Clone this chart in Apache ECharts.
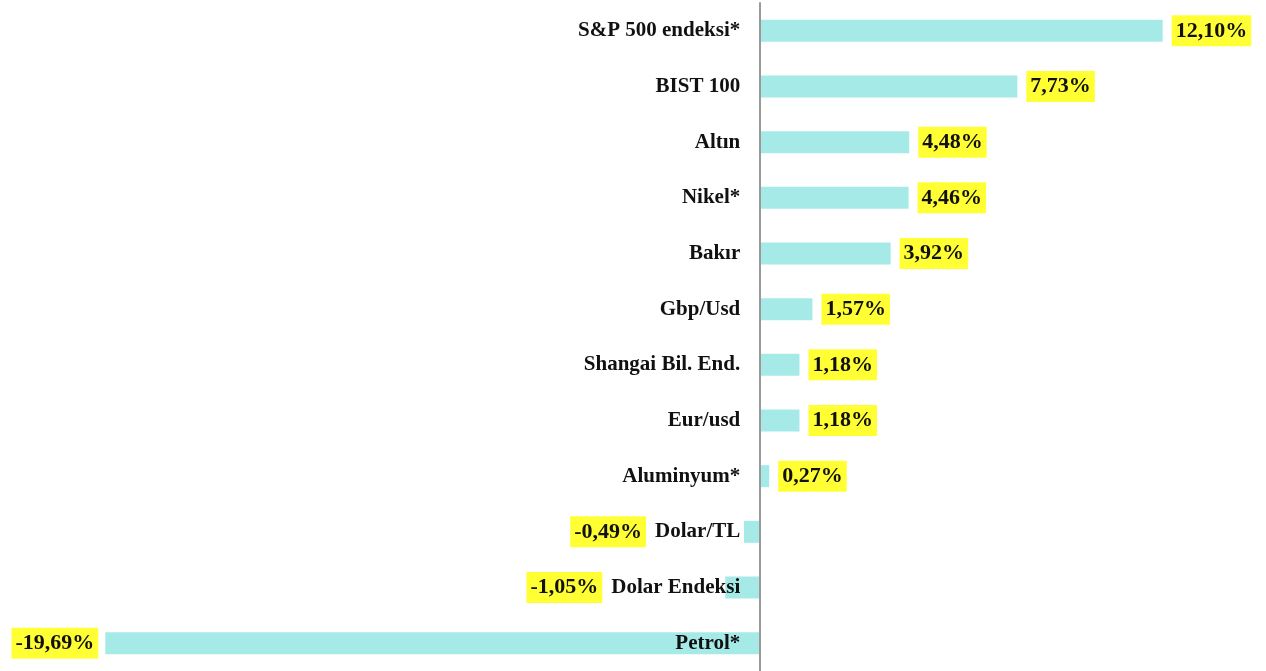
<!DOCTYPE html>
<html>
<head>
<meta charset="utf-8">
<script src="https://cdn.jsdelivr.net/npm/echarts@6/dist/echarts.min.js"></script>
<style>
html, body { margin: 0; padding: 0; background: #fff; }
#main { width: 1266px; height: 671px; }
</style>
</head>
<body>
<div id="main"></div>
<script>
var categories = ['S&P 500 endeksi*', 'BIST 100', 'Altın', 'Nikel*', 'Bakır', 'Gbp/Usd',
	'Shangai Bil. End.', 'Eur/usd', 'Aluminyum*', 'Dolar/TL', 'Dolar Endeksi', 'Petrol*'];
var values = [12.10, 7.73, 4.48, 4.46, 3.92, 1.57, 1.18, 1.18, 0.27, -0.49, -1.05, -19.69];

var fontFam = '"Liberation Serif", "Times New Roman", serif';
var catFontSize = 21;
var labelMargin = 20;
var xMin = -20, xMax = 12.5;
var gridLeft = 95, gridRight = 90;
var gridWidth = 1266 - gridLeft - gridRight;
var pxPerUnit = gridWidth / (xMax - xMin);
// move the category axis onto the zero line
var zeroOffset = -(0 - xMin) * pxPerUnit;

// text width, used so negative value labels sit left of the category name
var ctx = document.createElement('canvas').getContext('2d');
ctx.font = 'bold ' + catFontSize + 'px ' + fontFam;

var myChart = echarts.init(document.getElementById('main'));
var barData = values.map(function (v, i) {
	var dist = 9;
	if (v < 0) {
		var textW = ctx.measureText(categories[i]).width;
		dist = Math.max(7, labelMargin + textW + 9 - (-v) * pxPerUnit);
	}
	return {
		value: v,
		label: { position: v < 0 ? 'left' : 'right', distance: dist }
	};
});

var option = {
	animation: false,
	grid: { left: gridLeft, right: gridRight, top: 3, bottom: 0, containLabel: false, outerBoundsMode: 'none' },
	xAxis: {
		type: 'value',
		min: xMin,
		max: xMax,
		show: false
	},
	yAxis: {
		type: 'category',
		data: categories,
		inverse: true,
		position: 'left',
		offset: zeroOffset,
		z: 5,
		axisLine: { show: true, onZero: false, lineStyle: { color: '#999', width: 2 } },
		axisTick: { show: false },
		axisLabel: {
			margin: labelMargin,
			color: '#111',
			fontFamily: fontFam,
			fontWeight: 'bold',
			fontSize: catFontSize
		}
	},
	series: [{
		type: 'bar',
		data: barData,
		barWidth: 22,
		itemStyle: { color: '#a6eae8' },
		z: 1,
		label: {
			show: true,
			color: '#111',
			fontFamily: fontFam,
			fontWeight: 'bold',
			fontSize: 22,
			backgroundColor: '#ffff33',
			padding: [5, 4, 4, 4],
			formatter: function (p) {
				return p.value.toFixed(2).replace('.', ',') + '%';
			}
		}
	}]
};
myChart.setOption(option);
</script>
</body>
</html>
